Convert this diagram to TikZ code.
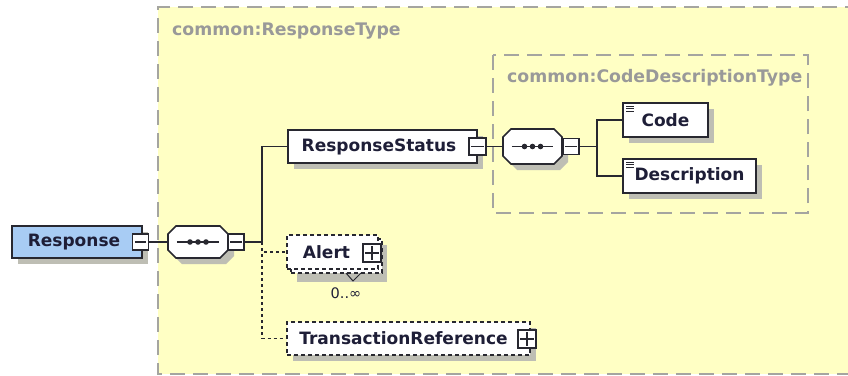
\documentclass[tikz,border=0pt]{standalone}
\usepackage{fontspec}
\setmainfont{DejaVu Sans}
\usetikzlibrary{calc}
\definecolor{bgyellow}{RGB}{255,255,196}
\definecolor{respblue}{RGB}{168,204,244}
\definecolor{shadowgray}{RGB}{190,190,180}
\definecolor{frame}{RGB}{165,165,160}
\definecolor{ink}{RGB}{40,40,48}
\definecolor{txt}{RGB}{30,30,55}
\tikzset{
  x=1pt, y=-1pt,
  elem/.style={draw=ink, line width=1.7pt, fill=white, inner sep=0pt,
    font=\fontsize{17}{20}\selectfont\bfseries, text=txt},
  optelem/.style={elem, line width=1.6pt, dash pattern=on 4pt off 3pt},
  ctrbox/.style={draw=ink, line width=1.3pt, fill=white, inner sep=0pt, minimum width=16pt, minimum height=16pt},
  typelabel/.style={font=\fontsize{17.3}{20}\selectfont\bfseries, text=black!40, inner sep=0pt, anchor=west},
  typeframe/.style={draw=frame, line width=1.8pt, dash pattern=on 15pt off 8pt},
  conn/.style={draw=ink, line width=1.7pt},
  optconn/.style={draw=ink, line width=1.8pt, dash pattern=on 3pt off 3pt},
  shd/.style={fill=shadowgray, draw=none}
}
\newcommand\myminus[1]{\draw[ink, line width=1.2pt] ([xshift=3pt]#1.west) -- ([xshift=-3pt]#1.east);}
\newcommand\myplus[1]{\myminus{#1}\draw[ink, line width=1.2pt] ([yshift=3pt]#1.south) -- ([yshift=-3pt]#1.north);}
% octagon: x1 y1 x2 y2 name
\newcommand\mysequence[5]{%
  \fill[shd] (#1+14,#2+6) -- (#3-2,#2+6) -- (#3+6,#2+14) -- (#3+6,#4-2) -- (#3-2,#4+6) -- (#1+14,#4+6) -- (#1+6,#4-2) -- (#1+6,#2+14) -- cycle;
  \draw[ink, line width=1.7pt, fill=white] (#1+8,#2) -- (#3-8,#2) -- (#3,#2+8) -- (#3,#4-8) -- (#3-8,#4) -- (#1+8,#4) -- (#1,#4-8) -- (#1,#2+8) -- cycle;
  \node[inner sep=0pt, minimum width=#3-#1, minimum height=#4-#2] (#5) at ({(#1+#3)/2},{(#2+#4)/2}) {};
  \draw[ink, line width=1.6pt] ([xshift=9pt]#5.west) -- ([xshift=-9pt]#5.east);
  \fill[ink] (#5.center) circle (2.8pt) ([xshift=-8pt]#5.center) circle (2.8pt) ([xshift=8pt]#5.center) circle (2.8pt);
}
\begin{document}
\begin{tikzpicture}
\useasboundingbox (0,0) rectangle (848,375);
\begin{scope}
\clip (0,0) rectangle (848,375);
% outer type frame
\fill[bgyellow] (158,7) rectangle (860,374);
\draw[typeframe] (860,7) -- (158,7) -- (158,374) -- (860,374);
\node[typelabel] (rtlabel) at (172,31) {common:ResponseType};
% inner type frame
\draw[typeframe] (493,55) rectangle (808,213);
\node[typelabel] (cdlabel) at (507,78) {common:CodeDescriptionType};

% Response
\fill[shd] (18,232) rectangle (148,264);
\node[elem, fill=respblue, minimum width=130pt, minimum height=32pt] (resp) at (77,242) {Response\hspace*{6pt}};
\node[ctrbox] (rm) at (140.5,242) {};
\myminus{rm}

% first sequence
\mysequence{168}{226}{228}{258}{seq1}
\node[ctrbox] (s1m) at (236,242) {};
\myminus{s1m}
\coordinate (j1) at (262,242);

% ResponseStatus
\fill[shd] (294,136) rectangle (483,169);
\node[elem, minimum width=189pt, minimum height=33pt] (rs) at (382.5,146.5) {ResponseStatus\hspace*{7pt}};
\node[ctrbox, minimum width=17pt, minimum height=17pt] (rsm) at (477.5,146.5) {};
\myminus{rsm}

% second sequence
\mysequence{503}{129}{562}{164}{seq2}
\node[ctrbox] (s2m) at (571,146.5) {};
\myminus{s2m}
\coordinate (j2) at (597,146.5);

% Code
\fill[shd] (629,109) rectangle (714,143);
\node[elem, minimum width=85pt, minimum height=34pt] (code) at (665.5,120) {Code};
\draw[ink, line width=0.9pt] (626,106) -- (634,106) (626,108.5) -- (634,108.5) (626,111) -- (634,111);
% Description
\fill[shd] (629,165) rectangle (762,199);
\node[elem, minimum width=133pt, minimum height=34pt] (desc) at (689.5,176) {Description};
\draw[ink, line width=0.9pt] (626,162) -- (634,162) (626,164.5) -- (634,164.5) (626,167) -- (634,167);

% Alert (0..inf)
\fill[shd] (297,245) rectangle (387,282);
\node[optelem, minimum width=91pt, minimum height=34pt] (alertback) at (336.5,256) {};
\node[optelem, minimum width=91pt, minimum height=34pt] (alert) at (332.5,252) {Alert\hspace*{12pt}};
\node[ctrbox, minimum width=18pt, minimum height=18pt] (am) at (372,253) {};
\myplus{am}
\draw[ink, line width=1pt] (346,273) -- (353,281) -- (361,273);
\node[font=\fontsize{14.5}{16}\selectfont, text=txt, inner sep=0pt] (mult) at (346,293) {0..∞};

% TransactionReference
\fill[shd] (293,328) rectangle (536,361);
\node[optelem, minimum width=243pt, minimum height=33pt] (tr) at (408.5,338.5) {TransactionReference\hspace*{10pt}};
\node[ctrbox, minimum width=18pt, minimum height=18pt] (tm) at (527,339) {};
\myplus{tm}

% connectors
\draw[conn] (rm.east) -- (seq1.west);
\draw[conn] (s1m.east) -- (j1) |- (rs.west);
\draw[optconn] (j1) |- (alert.west);
\draw[optconn] (j1) |- (tr.west);
\draw[conn] (rsm.east) -- (seq2.west);
\draw[conn] (s2m.east) -- (j2) |- (code.west);
\draw[conn] (j2) |- (desc.west);
\end{scope}
\end{tikzpicture}
\end{document}
